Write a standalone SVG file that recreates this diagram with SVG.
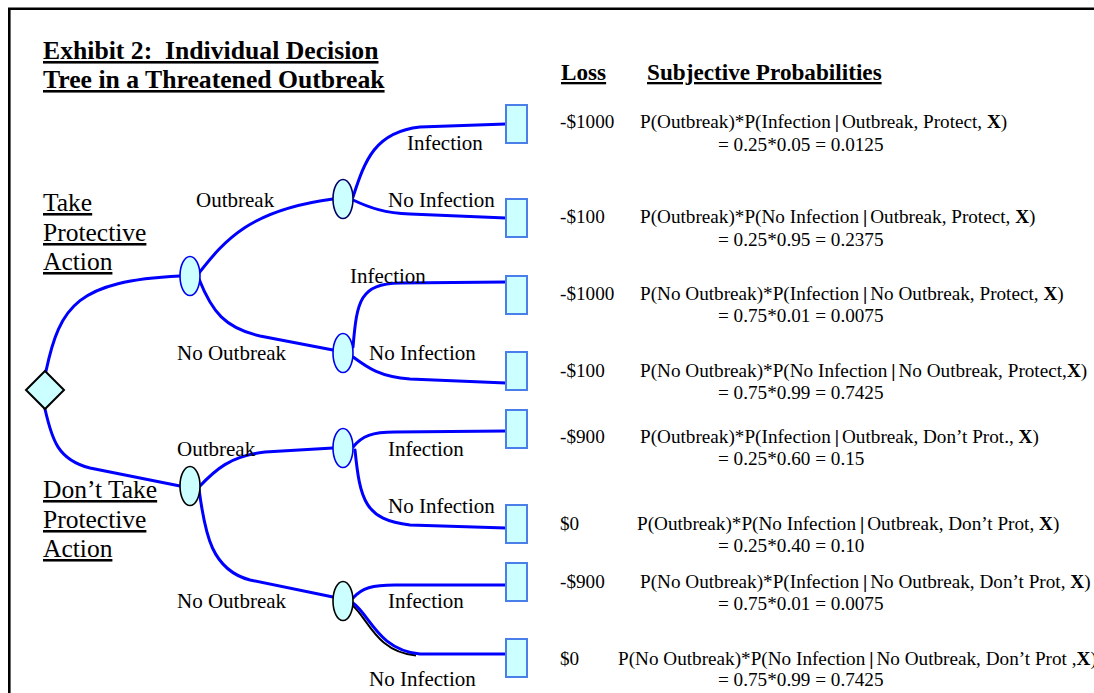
<svg xmlns="http://www.w3.org/2000/svg" width="1094" height="693" viewBox="0 0 1094 693">
<style>
text{font-family:"Liberation Serif","Times New Roman",serif;fill:#000}
.title{font-size:25.7px;font-weight:bold;text-decoration:underline}
.hdr{font-size:23.2px;font-weight:bold;text-decoration:underline}
.act{font-size:25.5px;text-decoration:underline}
.br{font-size:21px}
.pr{font-size:19.2px}
.bar{font-weight:bold}
.edge{fill:none;stroke:#0000FF;stroke-width:3;stroke-linecap:round}
.chance{fill:#CCFFFF;stroke-width:1.6}
.leaf{fill:#CCFFFF;stroke:#4A7EE8;stroke-width:2}
</style>
<rect width="1094" height="693" fill="#fff"/>
<g id="frame" stroke="#000" stroke-width="2.6" fill="none">
<line x1="8" y1="8.7" x2="1094" y2="8.7"/>
<line x1="9.3" y1="8" x2="9.3" y2="693"/>
</g>
<g id="title">
<text class="title" x="43" y="59" xml:space="preserve">Exhibit 2:  Individual Decision</text>
<text class="title" x="43" y="88">Tree in a Threatened Outbreak</text>
</g>
<g id="headers">
<text class="hdr" x="561" y="80">Loss</text>
<text class="hdr" x="647" y="80">Subjective Probabilities</text>
</g>
<g id="connectors">
<path class="edge" d="M46,371 C60,305 78,281 180,276"/>
<path class="edge" d="M45,409 C52,440 58,460 90,468 L180,486"/>
<path class="edge" d="M199,273 C225,240 250,210 333,199"/>
<path class="edge" d="M199,279 C212,312 225,328 260,336 L333,350"/>
<path class="edge" d="M353,197 C365,160 375,132 420,127 L506,124"/>
<path class="edge" d="M353,200 C370,208 385,213 410,214 L506,218"/>
<path class="edge" d="M353,347 C357,300 360,284 400,283 L506,282"/>
<path class="edge" d="M353,357 C368,368 380,377 410,379 L506,383"/>
<path class="edge" d="M199,487 C215,470 230,456 265,452 L333,448"/>
<path class="edge" d="M199,489 C205,535 212,570 250,580 L333,597"/>
<path class="edge" d="M353,447 C362,436 372,432 395,432 L506,431"/>
<path class="edge" d="M355,450 C360,500 365,520 410,525 L506,528"/>
<path class="edge" d="M353,598 C362,588 372,585 395,585 L506,585"/>
<path d="M352,605 C368,618 376,652 416,655.5" fill="none" stroke="#000" stroke-width="2"/>
<path class="edge" d="M353,603 C370,615 378,650 420,654 L506,654"/>
</g>
<g id="decision"><polygon points="45,371 64,390 45,409 26,390" fill="#CCFFFF" stroke="#000" stroke-width="2"/></g>
<g id="chance-take"><ellipse class="chance" cx="190" cy="276" rx="10" ry="19.5" stroke="#0000EE"/></g>
<g id="chance-take-outbreak"><ellipse class="chance" cx="343" cy="199" rx="10" ry="19.5" stroke="#000066"/></g>
<g id="chance-take-nooutbreak"><ellipse class="chance" cx="343" cy="353" rx="10" ry="19.5" stroke="#0000EE"/></g>
<g id="chance-dont"><ellipse class="chance" cx="190" cy="486" rx="10" ry="19.5" stroke="#000"/></g>
<g id="chance-dont-outbreak"><ellipse class="chance" cx="343" cy="448" rx="10" ry="19.5" stroke="#0000EE"/></g>
<g id="chance-dont-nooutbreak"><ellipse class="chance" cx="343" cy="601" rx="10" ry="19.5" stroke="#000"/></g>
<g id="leaf1"><rect class="leaf" x="506" y="105" width="21" height="38"/></g>
<g id="leaf2"><rect class="leaf" x="506" y="199" width="21" height="38"/></g>
<g id="leaf3"><rect class="leaf" x="506" y="276" width="21" height="38"/></g>
<g id="leaf4"><rect class="leaf" x="506" y="352" width="21" height="38"/></g>
<g id="leaf5"><rect class="leaf" x="506" y="410" width="21" height="38"/></g>
<g id="leaf6"><rect class="leaf" x="506" y="505" width="21" height="38"/></g>
<g id="leaf7"><rect class="leaf" x="506" y="563" width="21" height="38"/></g>
<g id="leaf8"><rect class="leaf" x="506" y="639" width="21" height="38"/></g>
<g id="action-labels">
<text class="act" x="43" y="211">Take</text>
<text class="act" x="43" y="241">Protective</text>
<text class="act" x="43" y="270">Action</text>
<text class="act" x="43" y="498">Don’t Take</text>
<text class="act" x="43" y="528">Protective</text>
<text class="act" x="43" y="557">Action</text>
</g>
<g id="branch-labels">
<text class="br" x="196" y="207">Outbreak</text>
<text class="br" x="407" y="150">Infection</text>
<text class="br" x="388" y="207">No Infection</text>
<text class="br" x="350" y="283">Infection</text>
<text class="br" x="177" y="360">No Outbreak</text>
<text class="br" x="369" y="360">No Infection</text>
<text class="br" x="177" y="456">Outbreak</text>
<text class="br" x="388" y="456">Infection</text>
<text class="br" x="388" y="513">No Infection</text>
<text class="br" x="177" y="608">No Outbreak</text>
<text class="br" x="388" y="608">Infection</text>
<text class="br" x="369" y="686">No Infection</text>
</g>
<g id="outcomes">
<text class="pr" x="560" y="128">-$1000</text>
<text class="pr" x="640" y="128">P(Outbreak)*P(Infection<tspan class="bar" dx="4">|</tspan><tspan dx="3">Outbreak, Protect, </tspan><tspan class="bar">X</tspan>)</text>
<text class="pr" x="718" y="151">= 0.25*0.05 = 0.0125</text>
<text class="pr" x="560" y="223">-$100</text>
<text class="pr" x="640" y="223">P(Outbreak)*P(No Infection<tspan class="bar" dx="4">|</tspan><tspan dx="3">Outbreak, Protect, </tspan><tspan class="bar">X</tspan>)</text>
<text class="pr" x="718" y="246">= 0.25*0.95 = 0.2375</text>
<text class="pr" x="560" y="300">-$1000</text>
<text class="pr" x="640" y="300">P(No Outbreak)*P(Infection<tspan class="bar" dx="4">|</tspan><tspan dx="3">No Outbreak, Protect, </tspan><tspan class="bar">X</tspan>)</text>
<text class="pr" x="718" y="322">= 0.75*0.01 = 0.0075</text>
<text class="pr" x="560" y="377">-$100</text>
<text class="pr" x="640" y="377">P(No Outbreak)*P(No Infection<tspan class="bar" dx="4">|</tspan><tspan dx="3">No Outbreak, Protect,</tspan><tspan class="bar">X</tspan>)</text>
<text class="pr" x="718" y="399">= 0.75*0.99 = 0.7425</text>
<text class="pr" x="560" y="443">-$900</text>
<text class="pr" x="640" y="443">P(Outbreak)*P(Infection<tspan class="bar" dx="4">|</tspan><tspan dx="3">Outbreak, Don’t Prot., </tspan><tspan class="bar">X</tspan>)</text>
<text class="pr" x="718" y="465">= 0.25*0.60 = 0.15</text>
<text class="pr" x="560" y="530">$0</text>
<text class="pr" x="637" y="530">P(Outbreak)*P(No Infection<tspan class="bar" dx="4">|</tspan><tspan dx="3">Outbreak, Don’t Prot, </tspan><tspan class="bar">X</tspan>)</text>
<text class="pr" x="718" y="552">= 0.25*0.40 = 0.10</text>
<text class="pr" x="560" y="588">-$900</text>
<text class="pr" x="640" y="588">P(No Outbreak)*P(Infection<tspan class="bar" dx="4">|</tspan><tspan dx="3">No Outbreak, Don’t Prot, </tspan><tspan class="bar">X</tspan>)</text>
<text class="pr" x="718" y="610">= 0.75*0.01 = 0.0075</text>
<text class="pr" x="560" y="665">$0</text>
<text class="pr" x="618" y="665">P(No Outbreak)*P(No Infection<tspan class="bar" dx="4">|</tspan><tspan dx="3">No Outbreak, Don’t Prot ,</tspan><tspan class="bar">X</tspan>)</text>
<text class="pr" x="718" y="686">= 0.75*0.99 = 0.7425</text>
</g>
</svg>
